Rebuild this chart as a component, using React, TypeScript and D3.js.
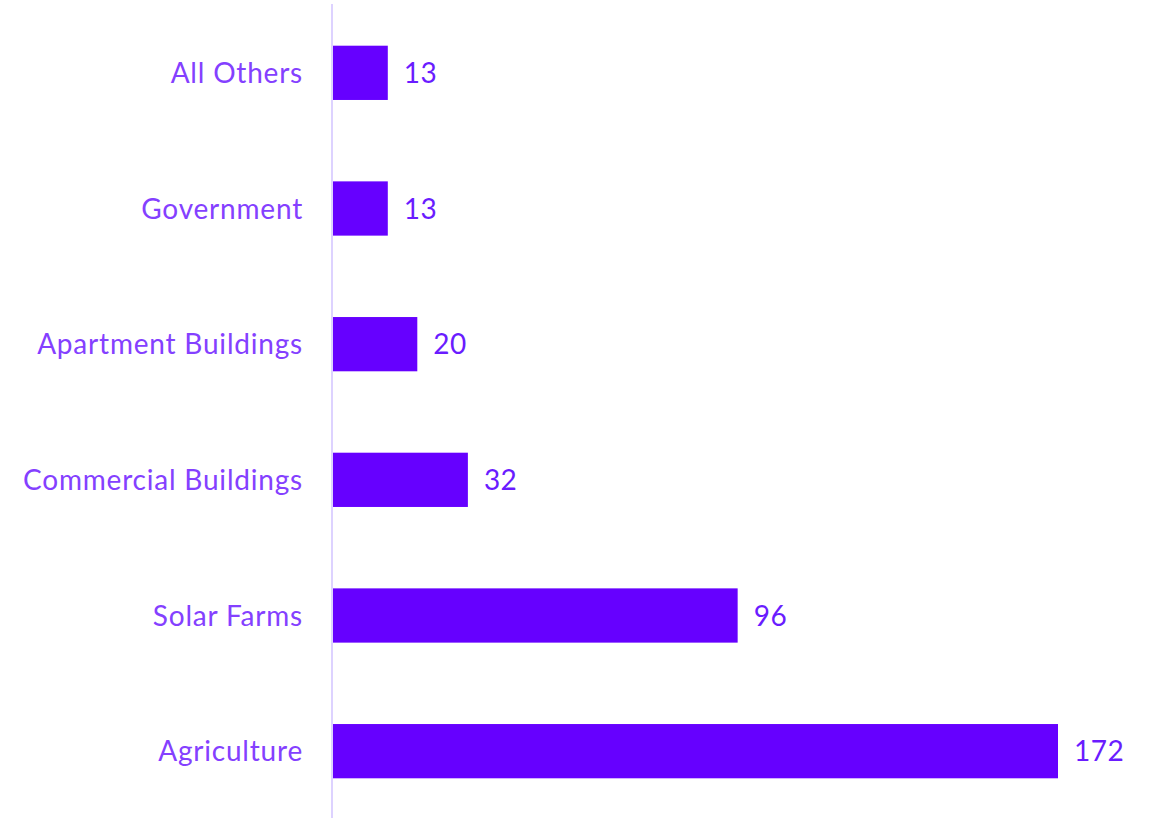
import React, { useEffect } from 'react';
import * as d3 from 'd3';

const categories = ['All Others', 'Government', 'Apartment Buildings', 'Commercial Buildings', 'Solar Farms', 'Agriculture'];
const values = [13, 13, 20, 32, 96, 172];

const width = 1154;
const height = 818;

const App: React.FC = () => {
  useEffect(() => {
    document.body.style.margin = '0';
  }, []);

  const x = d3.scaleLinear().domain([0, 172]).range([333, 1058]);
  const y = d3.scaleBand<string>()
    .domain(categories)
    .range([5, 819])
    .paddingInner(0.6)
    .paddingOuter(0.3);

  const font = 'Lato, "Open Sans", sans-serif';

  return (
    <svg width={width} height={height} style={{ display: 'block' }}>
      <line x1={332} x2={332} y1={4} y2={height} stroke="#ddd2ff" strokeWidth={2} />
      {categories.map((c, i) => {
        const yc = (y(c) ?? 0) + y.bandwidth() / 2;
        return (
          <g key={c}>
            <rect
              x={x(0)}
              y={y(c)}
              width={x(values[i]) - x(0)}
              height={y.bandwidth()}
              fill="#6600ff"
            />
            <text x={303} y={yc} dy="0.36em" textAnchor="end" fill="#8440ff"
              fontFamily={font} fontSize={28} letterSpacing={0.8}>{c}</text>
            <text x={x(values[i]) + 16} y={yc} dy="0.36em" fill="#6a1cff"
              fontFamily={font} fontSize={28} letterSpacing={0.5}>{values[i]}</text>
          </g>
        );
      })}
    </svg>
  );
};

export default App;
